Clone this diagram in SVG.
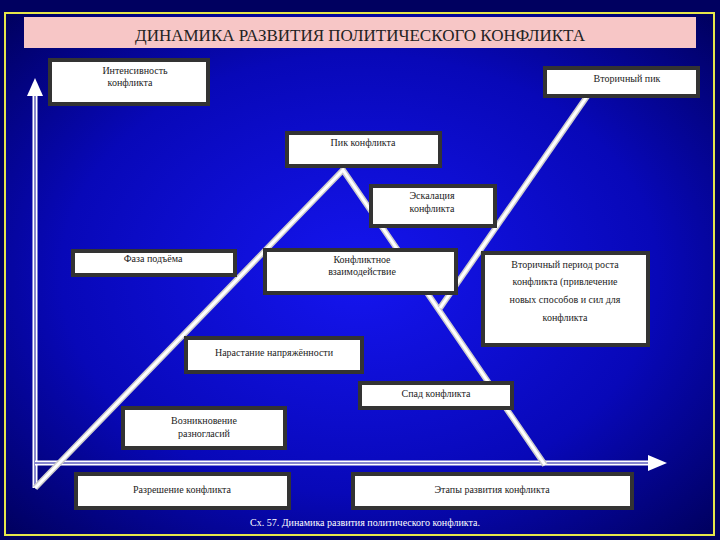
<svg xmlns="http://www.w3.org/2000/svg" width="720" height="540" viewBox="0 0 720 540">
<defs>
<radialGradient id="bg" cx="0.5" cy="0.5" r="0.7">
<stop offset="0" stop-color="#1515f0"/><stop offset="0.6" stop-color="#0808b8"/><stop offset="1" stop-color="#000060"/>
</radialGradient>
<style>
.b{fill:#fff;stroke:#333;stroke-width:4}
.t{font-family:'Liberation Serif','DejaVu Serif',serif;font-size:10px;fill:#222;text-anchor:middle}
.l{stroke:#ccc;stroke-width:6;fill:none}
.li{stroke:#fff;stroke-width:3;fill:none}
</style>
</defs>
<rect width="720" height="540" fill="#000060"/>
<rect x="5" y="13" width="709" height="522" fill="url(#bg)" stroke="#e6e64a" stroke-width="2"/>
<rect x="24" y="17" width="672" height="31" fill="#f7c6c6"/>
<text x="360" y="41" font-family="'Liberation Serif','DejaVu Serif',serif" font-size="17" text-anchor="middle" fill="#222">ДИНАМИКА РАЗВИТИЯ ПОЛИТИЧЕСКОГО КОНФЛИКТА</text>
<g id="connectors">
<line x1="35" y1="488" x2="35" y2="96" stroke="#fff" stroke-width="5"/><line x1="35" y1="488" x2="35" y2="96" stroke="#1010a0" stroke-width="1"/>
<path d="M27,96L35,78L43,96z" fill="#fff"/>
<line x1="35" y1="463" x2="650" y2="463" stroke="#fff" stroke-width="5"/><line x1="35" y1="463" x2="650" y2="463" stroke="#1010a0" stroke-width="1"/>
<path d="M648,455L667,463L648,471z" fill="#fff"/>
<path class="l" d="M35,488L343,170L545,465"/><path class="li" d="M35,488L343,170L545,465"/>
<path class="l" d="M440,308L588,95"/><path class="li" d="M440,308L588,95"/>
</g>
<g id="n1"><rect class="b" x="50" y="60" width="158" height="44"/><text class="t" x="135" y="74">Интенсивность</text><text class="t" x="130" y="86">конфликта</text></g>
<g id="n2"><rect class="b" x="545" y="68" width="153" height="28"/><text class="t" x="627" y="82">Вторичный пик</text></g>
<g id="n3"><rect class="b" x="287" y="133" width="153" height="33"/><text class="t" x="363" y="146">Пик конфликта</text></g>
<g id="n4"><rect class="b" x="371" y="186" width="124" height="40"/><text class="t" x="432" y="199">Эскалация</text><text class="t" x="432" y="212">конфликта</text></g>
<g id="n5"><rect class="b" x="73" y="251" width="162" height="24"/><text class="t" x="153" y="262">Фаза подъёма</text></g>
<g id="n6"><rect class="b" x="265" y="250" width="191" height="43"/><text class="t" x="362" y="263">Конфликтное</text><text class="t" x="362" y="275">взаимодействие</text></g>
<g id="n7"><rect class="b" x="483" y="253" width="165" height="92"/><text class="t" x="565" y="268">Вторичный период роста</text><text class="t" x="565" y="285">конфликта (привлечение</text><text class="t" x="565" y="303">новых способов и сил для</text><text class="t" x="565" y="321">конфликта</text></g>
<g id="n8"><rect class="b" x="186" y="338" width="176" height="34"/><text class="t" x="274" y="356">Нарастание напряжённости</text></g>
<g id="n9"><rect class="b" x="360" y="383" width="152" height="25"/><text class="t" x="436" y="397">Спад конфликта</text></g>
<g id="n10"><rect class="b" x="123" y="408" width="162" height="40"/><text class="t" x="204" y="424">Возникновение</text><text class="t" x="204" y="437">разногласий</text></g>
<g id="n11"><rect class="b" x="76" y="474" width="213" height="34"/><text class="t" x="182" y="493">Разрешение конфликта</text></g>
<g id="n12"><rect class="b" x="353" y="474" width="279" height="34"/><text class="t" x="492" y="493">Этапы развития конфликта</text></g>
<text x="365" y="526" font-family="'Liberation Serif','DejaVu Serif',serif" font-size="10" text-anchor="middle" fill="#fff">Сх. 57. Динамика развития политического конфликта.</text>
</svg>
